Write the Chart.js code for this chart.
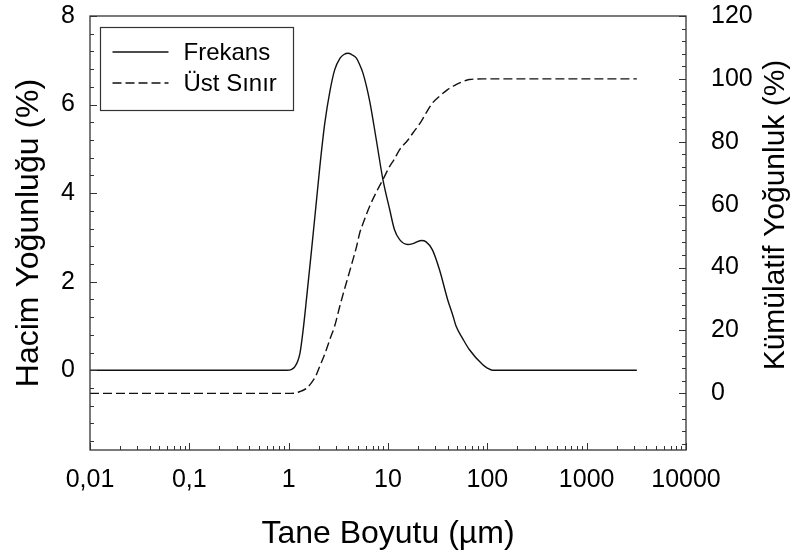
<!DOCTYPE html>
<html>
<head>
<meta charset="utf-8">
<script src="https://cdn.jsdelivr.net/npm/chart.js@4"></script>
<style>
  html, body { margin: 0; padding: 0; background: #fff; }
  #wrap { width: 803px; height: 555px; }
</style>
</head>
<body>
<div id="wrap"><canvas id="chart" width="803" height="555"></canvas></div>
<script>
// particle size (µm)
const sizes = [0.01, 0.96, 1.16, 1.3, 1.4, 1.51, 1.7, 1.88, 2.06, 2.31, 2.6, 2.91, 3.27, 3.6, 3.96,
    4.3, 4.81, 5.19, 5.6, 6.54, 7.63, 8.9, 10.4, 11.6, 13.1, 15.8, 17.8, 21.6, 24.2, 28, 33,
    39.8, 44.8, 48.4, 57, 65.8, 89.5, 100, 113, 3200];

// volume density (%), left axis
const frekans = [0, 0, 0.09, 0.39, 0.92, 1.6, 2.72, 3.7, 4.6, 5.58, 6.3, 6.79, 7.04, 7.13, 7.16,
    7.13, 7.05, 6.9, 6.71, 6.08, 5.2, 4.3, 3.63, 3.18, 2.95, 2.84, 2.86, 2.93, 2.9, 2.72, 2.27,
    1.6, 1.25, 1.0, 0.7, 0.47, 0.13, 0.05, 0, 0];

// cumulative (%), right axis
const ustSinir = [0, 0, 0.1, 0.6, 1.0, 1.6, 3.4, 5.6, 8.7, 12.5, 17.2, 21.5, 27.7, 32.5, 37,
    41, 46.5, 51, 54, 59.5, 64, 68, 72.2, 74.5, 77.5, 80.5, 82.8, 86.5, 89.2, 92.3, 94.5,
    96.6, 97.6, 98.2, 99.2, 99.8, 100, 100, 100, 100];

const xTickValues = [0.01, 0.1, 1, 10, 100, 1000, 10000];
const xTickLabels = ['0,01', '0,1', '1', '10', '100', '1000', '10000'];
const yTickValues = [0, 2, 4, 6, 8];
const y1TickValues = [0, 20, 40, 60, 80, 100, 120];

const FONT = "'Liberation Sans', Arial, sans-serif";
const INK = '#111';
const FRAME = '#333';

const toPoints = (vals) => sizes.map((s, i) => ({ x: s, y: vals[i] }));

// vertical axes get a fixed width and no extra room for the end labels
const fixWidth = (w) => (scale) => {
    scale.width = w;
    scale.paddingTop = 0;
    scale.paddingBottom = 0;
};

// frame, inward tick marks, legend box and right-hand title
const decorations = {
    id: 'decorations',
    afterDraw(chart) {
        const { ctx, chartArea: a, scales } = chart;
        ctx.save();

        ctx.strokeStyle = FRAME;
        ctx.lineWidth = 1.3;
        ctx.strokeRect(a.left, a.top, a.right - a.left, a.bottom - a.top);

        ctx.lineWidth = 1;
        const seg = (x1, y1, x2, y2) => {
            ctx.beginPath();
            ctx.moveTo(x1, y1);
            ctx.lineTo(x2, y2);
            ctx.stroke();
        };

        // x: decades and 2..9 in between
        for (let d = -2; d <= 4; d++) {
            for (let m = 1; m <= 9; m++) {
                if (d === 4 && m > 1) break;
                const v = m * Math.pow(10, d);
                const px = Math.round(scales.x.getPixelForValue(v)) + 0.5;
                seg(px, a.bottom, px, a.bottom - (m === 1 ? 7 : 4));
            }
        }

        // left: every 0.4, labelled every 2
        for (let i = -4; i <= 20; i++) {
            const v = i * 0.4;
            const py = Math.round(scales.y.getPixelForValue(v)) + 0.5;
            seg(a.left, py, a.left + (i % 5 === 0 ? 7 : 4), py);
        }

        // right: every 4, labelled every 20
        for (let v = -16; v <= 120; v += 4) {
            const py = Math.round(scales.y1.getPixelForValue(v)) + 0.5;
            seg(a.right, py, a.right - (v % 20 === 0 ? 7 : 4), py);
        }

        // legend
        const lx = a.left + 10.5, ly = a.top + 11.5;
        ctx.strokeStyle = FRAME;
        ctx.lineWidth = 1.2;
        ctx.strokeRect(lx, ly, 193, 83);
        ctx.font = '24px ' + FONT;
        ctx.textBaseline = 'middle';
        ctx.textAlign = 'left';
        chart.data.datasets.forEach((ds, i) => {
            const rowY = ly + 24.5 + i * 31;
            ctx.strokeStyle = ds.borderColor;
            ctx.lineWidth = ds.borderWidth;
            ctx.setLineDash(ds.borderDash || []);
            seg(lx + 12, rowY, lx + 68, rowY);
            ctx.setLineDash([]);
            ctx.fillStyle = '#000';
            ctx.fillText(ds.label, lx + 83, rowY + 1);
        });

        // right-hand axis title, reading upwards
        ctx.translate(a.right + 90, 215);
        ctx.rotate(-Math.PI / 2);
        ctx.font = '30px ' + FONT;
        ctx.textAlign = 'center';
        ctx.fillStyle = '#000';
        ctx.fillText('Kümülatif Yoğunluk (%)', 0, 0);

        ctx.restore();
    }
};

new Chart('chart', {
    type: 'line',
    data: {
        datasets: [
            {
                label: 'Frekans',
                data: toPoints(frekans),
                yAxisID: 'y',
                borderColor: INK,
                borderWidth: 1.4,
                pointRadius: 0,
                cubicInterpolationMode: 'monotone',
                fill: false,
            },
            {
                label: 'Üst Sınır',
                data: toPoints(ustSinir),
                yAxisID: 'y1',
                borderColor: INK,
                borderWidth: 1.4,
                borderDash: [9, 4],
                pointRadius: 0,
                cubicInterpolationMode: 'monotone',
                fill: false,
            }
        ]
    },
    options: {
        responsive: false,
        animation: false,
        devicePixelRatio: 1,
        layout: { padding: { top: 16, left: 0, right: 0, bottom: 0 } },
        plugins: {
            legend: { display: false },
            tooltip: { enabled: false },
        },
        scales: {
            x: {
                type: 'logarithmic',
                min: 0.01,
                max: 10000,
                grid: { display: false, drawTicks: false },
                border: { display: false },
                afterBuildTicks: (scale) => { scale.ticks = xTickValues.map(v => ({ value: v })); },
                afterFit: (scale) => {
                    scale.height = 105;
                    scale.paddingLeft = 0;
                    scale.paddingRight = 0;
                },
                ticks: {
                    autoSkip: false,
                    maxRotation: 0,
                    padding: 15,
                    color: '#000',
                    font: { family: FONT, size: 25 },
                    callback: (value, index) => xTickLabels[index],
                },
                title: {
                    display: true,
                    text: 'Tane Boyutu (µm)',
                    color: '#000',
                    font: { family: FONT, size: 32 },
                    padding: { top: 0, bottom: 2 },
                },
            },
            y: {
                position: 'left',
                min: -1.8,
                max: 8,
                grid: { display: false, drawTicks: false },
                border: { display: false },
                afterBuildTicks: (scale) => { scale.ticks = yTickValues.map(v => ({ value: v })); },
                afterFit: fixWidth(90),
                ticks: {
                    padding: 15,
                    color: '#000',
                    font: { family: FONT, size: 25 },
                    callback: (value) => String(value),
                },
                title: {
                    display: true,
                    text: 'Hacim Yoğunluğu (%)',
                    color: '#000',
                    font: { family: FONT, size: 32 },
                    padding: { top: 10, bottom: 0 },
                },
            },
            y1: {
                position: 'right',
                min: -18,
                max: 120,
                grid: { display: false, drawTicks: false },
                border: { display: false },
                afterBuildTicks: (scale) => { scale.ticks = y1TickValues.map(v => ({ value: v })); },
                afterFit: fixWidth(117),
                ticks: {
                    padding: 25,
                    color: '#000',
                    font: { family: FONT, size: 25 },
                    callback: (value) => String(value),
                },
            },
        },
    },
    plugins: [decorations],
});
</script>
</body>
</html>
